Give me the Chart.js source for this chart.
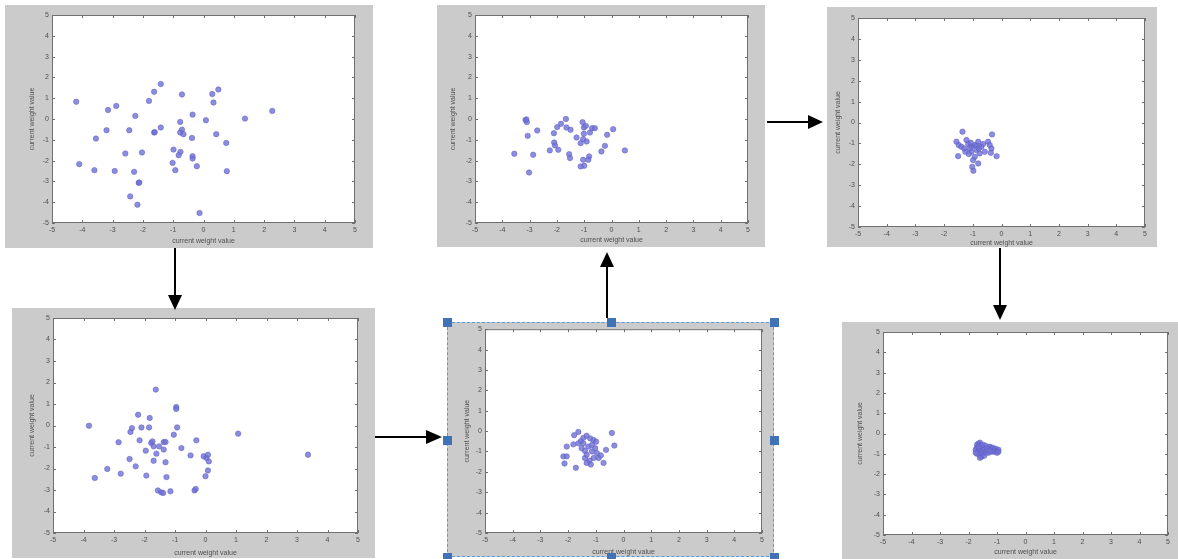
<!DOCTYPE html>
<html>
<head>
<meta charset="utf-8">
<script src="https://cdn.jsdelivr.net/npm/chart.js@4.4.1/dist/chart.umd.min.js"></script>
<style>
  body { margin: 0; background: #fff; }
  #wrap { position: relative; width: 1178px; height: 559px; overflow: hidden; background: #fff; }
  .panel { position: absolute; background: #cbcbcb; }
  .panel canvas { display: block; }
  .sel { position: absolute; border: 1px dashed #5b9bd5; box-sizing: border-box; }
  .hd { position: absolute; width: 9px; height: 9px; background: #3f73b5; }
  svg { position: absolute; left: 0; top: 0; }
</style>
</head>
<body>
<div id="wrap">
  <div class="panel" id="b1"><canvas id="c1"></canvas></div>
  <div class="panel" id="b2"><canvas id="c2"></canvas></div>
  <div class="panel" id="b3"><canvas id="c3"></canvas></div>
  <div class="panel" id="b4"><canvas id="c4"></canvas></div>
  <div class="panel" id="b5"><canvas id="c5"></canvas></div>
  <div class="panel" id="b6"><canvas id="c6"></canvas></div>
  <div class="sel" id="sel"></div>
  <svg width="1178" height="559">
    <g stroke="#000" stroke-width="2">
      <line x1="175" y1="248" x2="175" y2="297"/>
      <line x1="375" y1="437" x2="428" y2="437"/>
      <line x1="607" y1="318" x2="607" y2="266"/>
      <line x1="767" y1="122" x2="810" y2="122"/>
      <line x1="1000" y1="248" x2="1000" y2="307"/>
    </g>
    <g fill="#000">
      <polygon points="168,295 182,295 175,310"/>
      <polygon points="426,430 426,444 442,437"/>
      <polygon points="600,267 614,267 607,252"/>
      <polygon points="808,115 808,129 823,122"/>
      <polygon points="993,305 1007,305 1000,320"/>
    </g>
  </svg>
</div>
<script>
// DATA
const axisTitle = 'current weight value';
const axisMin = -5;
const axisMax = 5;

const stage1X = [-4.2, -4.1, -3.55, -3.6, -3.2, -3.15, -2.88, -2.93, -2.25, -2.45, -2.58, -2.29, -2.14, -2.12, -2.42, -2.18, -2.03, -1.8, -1.63, -1.41, -1.63, -1.61, -1.41, -0.71, -0.77, -0.71, -0.77, -0.66, -0.99, -0.76, -0.82, -1.02, -0.93, -0.36, -0.38, -0.36, -0.36, -0.22, 0.08, 0.29, 0.49, 0.33, 0.42, 0.75, 0.77, -0.13, 1.37, 2.27];
const stage1Y = [0.83, -2.17, -0.94, -2.46, -0.54, 0.43, 0.63, -2.5, 0.15, -0.54, -1.66, -2.54, -3.07, -3.05, -3.72, -4.12, -1.61, 0.87, 1.31, 1.68, -0.65, -0.63, -0.41, 1.18, -0.14, -0.51, -0.65, -0.73, -1.47, -1.58, -1.74, -2.11, -2.46, 0.21, -0.91, -1.79, -1.9, -2.27, -0.06, 1.2, 1.42, 0.79, -0.73, -1.15, -2.51, -4.52, 0.02, 0.39];

const stage2X = [-3.15, -3.1, -3.12, -3.07, -3.56, -3.02, -2.87, -2.72, -2.26, -2.1, -2.07, -2.11, -1.95, -1.99, -1.85, -1.67, -1.65, -1.5, -1.55, -1.52, -1.28, -1.13, -1.06, -1.01, -1.01, -1.04, -0.91, -1.0, -1.13, -1.04, -0.82, -0.85, -0.94, -0.79, -0.71, -0.61, -0.24, -0.37, -0.16, 0.06, 0.49];
const stage2Y = [-0.05, -0.15, -0.02, -0.81, -1.67, -2.57, -1.72, -0.55, -1.51, -1.13, -1.27, -0.68, -1.48, -0.39, -0.23, 0.0, -0.41, -0.52, -1.69, -1.88, -0.89, -1.16, -0.15, -0.41, -0.71, -0.97, -1.08, -2.25, -2.28, -1.96, -1.8, -1.96, -0.33, -0.65, -0.44, -0.44, -1.29, -1.56, -0.76, -0.49, -1.51];

const stage3X = [-1.36, -0.33, -1.57, -1.49, -1.22, -1.16, -1.05, -0.93, -0.81, -0.7, -0.87, -1.05, -1.1, -0.76, -0.93, -0.99, -0.81, -1.02, -0.98, -1.51, -1.26, -0.47, -0.41, -0.58, -0.35, -0.37, -0.17, -1.4, -0.64, -1.14, -0.86, -0.79, -1.3, -1.07];
const stage3Y = [-0.44, -0.57, -0.92, -1.08, -0.84, -1.03, -1.16, -1.08, -0.92, -1.16, -1.32, -1.4, -1.24, -1.48, -1.64, -1.8, -1.96, -2.12, -2.31, -1.61, -1.4, -0.92, -1.08, -1.4, -1.24, -1.45, -1.61, -1.16, -1.03, -1.51, -1.11, -1.24, -1.24, -0.97];

const stage4X = [-3.82, -3.63, -3.22, -2.85, -2.78, -2.49, -2.46, -2.41, -2.29, -2.21, -2.16, -2.1, -1.94, -1.96, -1.83, -1.85, -1.78, -1.74, -1.7, -1.7, -1.63, -1.61, -1.56, -1.45, -1.39, -1.52, -1.37, -1.31, -1.37, -1.31, -1.28, -1.15, -1.04, -0.96, -0.96, -0.93, -0.79, -0.49, -0.3, -0.36, -0.32, -0.06, 0.03, 0.08, 0.11, 0.0, 0.08, 1.07, 3.36];
const stage4Y = [-0.01, -2.44, -2.02, -0.78, -2.24, -1.56, -0.3, -0.12, -1.9, 0.5, -0.69, -0.09, -2.33, -1.17, 0.35, -0.09, -0.81, -0.74, -0.97, -1.64, 1.67, -1.31, -3.02, -3.11, -3.14, -0.97, -0.77, -0.77, -1.12, -1.71, -2.4, -3.06, -0.43, 0.86, 0.77, -0.09, -1.05, -1.39, -0.69, -3.02, -2.95, -1.43, -1.51, -1.36, -1.67, -2.36, -2.09, -0.38, -1.36];

const stage5X = [-0.42, -0.33, -1.63, -1.78, -2.05, -2.17, -2.05, -2.13, -1.72, -1.81, -1.54, -1.45, -1.33, -1.2, -1.08, -0.99, -1.51, -1.39, -1.27, -1.14, -1.02, -0.96, -0.9, -1.08, -1.23, -1.18, -1.33, -1.39, -0.72, -0.63, -1.45, -1.33, -1.63, -1.14, -0.82];
const stage5Y = [-0.09, -0.71, -0.04, -0.2, -0.76, -1.24, -1.24, -1.59, -1.8, -0.65, -0.49, -0.33, -0.23, -0.36, -0.44, -0.52, -0.84, -0.97, -0.76, -0.68, -0.84, -1.08, -1.32, -1.32, -1.45, -1.64, -1.56, -1.32, -1.56, -0.92, -0.6, -1.16, -0.6, -1.0, -1.19];

const stage6X = [-1.7, -1.65, -1.6, -1.55, -1.7, -1.75, -1.65, -1.6, -1.5, -1.45, -1.55, -1.7, -1.6, -1.5, -1.4, -1.55, -1.45, -1.35, -1.3, -1.25, -1.2, -1.15, -1.1, -1.05, -1.0, -0.95, -1.1, -1.2, -1.3, -1.4, -1.5, -1.65, -1.75, -1.6, -1.35, -1.25, -1.0, -0.95];
const stage6Y = [-0.55, -0.5, -0.45, -0.6, -0.7, -0.8, -0.85, -0.75, -0.7, -0.8, -0.9, -1.0, -1.05, -1.0, -0.95, -1.15, -1.1, -0.85, -0.7, -0.65, -0.75, -0.7, -0.8, -0.75, -0.85, -0.8, -0.9, -0.9, -0.95, -0.6, -0.55, -0.65, -0.95, -1.2, -0.75, -0.85, -0.95, -0.9];

// LAYOUT: gray box, y title offset, y scale width, top pad, right pad, x scale height, bottom pad
const panels = [
  { id: 1, box: [5, 5, 368, 243], left: 23, yw: 24, top: 10, right: 18, xh: 22, bottom: 3, xs: stage1X, ys: stage1Y },
  { id: 2, box: [437, 5, 328, 242], left: 12, yw: 26, top: 10, right: 17, xh: 21, bottom: 3, xs: stage2X, ys: stage2Y },
  { id: 3, box: [827, 7, 330, 240], left: 7, yw: 24, top: 11, right: 12, xh: 20, bottom: 0, xs: stage3X, ys: stage3Y },
  { id: 4, box: [12, 308, 363, 250], left: 16, yw: 25, top: 10, right: 17, xh: 24, bottom: 1, xs: stage4X, ys: stage4Y },
  { id: 5, box: [447, 322, 327, 235], left: 16, yw: 22, top: 3, right: 12, xh: 23, bottom: 1, xs: stage5X, ys: stage5Y },
  { id: 6, box: [842, 322, 336, 237], left: 14, yw: 27, top: 10, right: 10, xh: 21, bottom: 3, xs: stage6X, ys: stage6Y }
];

// selection frame around panel 5
const sel = document.getElementById('sel');
const sb = [447, 322, 327, 235];
sel.style.left = sb[0] + 'px';
sel.style.top = sb[1] + 'px';
sel.style.width = sb[2] + 'px';
sel.style.height = sb[3] + 'px';
[[0, 0], [0.5, 0], [1, 0], [0, 0.5], [1, 0.5], [0, 1], [0.5, 1], [1, 1]].forEach(([fx, fy]) => {
  const h = document.createElement('div');
  h.className = 'hd';
  h.style.left = Math.round(sb[0] + fx * sb[2] - 4) + 'px';
  h.style.top = Math.round(sb[1] + fy * sb[3] - 4) + 'px';
  document.getElementById('wrap').appendChild(h);
});

// white plot area, box and inward ticks like matlab
const matlabBox = {
  id: 'matlabBox',
  beforeDatasetsDraw(chart) {
    const { ctx, chartArea: a } = chart;
    ctx.save();
    ctx.fillStyle = '#fff';
    ctx.fillRect(a.left, a.top, a.right - a.left, a.bottom - a.top);
    ctx.restore();
  },
  afterDatasetsDraw(chart) {
    const { ctx, chartArea: a, scales: { x, y } } = chart;
    ctx.save();
    ctx.strokeStyle = '#707070';
    ctx.lineWidth = 1;
    ctx.strokeRect(a.left + 0.5, a.top + 0.5, a.right - a.left - 1, a.bottom - a.top - 1);
    ctx.beginPath();
    x.ticks.forEach(t => {
      const px = Math.round(x.getPixelForValue(t.value)) + 0.5;
      ctx.moveTo(px, a.bottom); ctx.lineTo(px, a.bottom - 3);
      ctx.moveTo(px, a.top); ctx.lineTo(px, a.top + 3);
    });
    y.ticks.forEach(t => {
      const py = Math.round(y.getPixelForValue(t.value)) + 0.5;
      ctx.moveTo(a.left, py); ctx.lineTo(a.left + 3, py);
      ctx.moveTo(a.right, py); ctx.lineTo(a.right - 3, py);
    });
    ctx.stroke();
    ctx.restore();
  }
};

Chart.defaults.font.family = 'Arial, "Liberation Sans", sans-serif';

function makePanel(p) {
  const div = document.getElementById('b' + p.id);
  const [bx, by, bw, bh] = p.box;
  div.style.left = bx + 'px';
  div.style.top = by + 'px';
  div.style.width = bw + 'px';
  div.style.height = bh + 'px';
  const canvas = document.getElementById('c' + p.id);
  canvas.width = bw;
  canvas.height = bh;
  const pts = p.xs.map((v, i) => ({ x: v, y: p.ys[i] }));
  new Chart(canvas, {
    type: 'scatter',
    data: {
      datasets: [{
        data: pts,
        pointRadius: 2.7,
        pointHoverRadius: 2.7,
        backgroundColor: 'rgba(112, 112, 212, 0.8)',
        borderColor: 'rgba(95, 95, 200, 0.55)',
        borderWidth: 1
      }]
    },
    options: {
      responsive: false,
      animation: false,
      layout: { padding: { left: p.left, top: p.top, right: p.right, bottom: p.bottom } },
      plugins: { legend: { display: false }, tooltip: { enabled: false } },
      scales: {
        x: {
          type: 'linear', min: axisMin, max: axisMax,
          grid: { display: false, drawTicks: false },
          border: { display: false },
          ticks: { stepSize: 1, color: '#505050', font: { size: 7 }, padding: 3, maxRotation: 0, autoSkip: false },
          title: { display: true, text: axisTitle, color: '#505050', font: { size: 7 }, padding: 0 },
          afterFit: s => { s.height = p.xh; }
        },
        y: {
          type: 'linear', min: axisMin, max: axisMax,
          grid: { display: false, drawTicks: false },
          border: { display: false },
          ticks: { stepSize: 1, color: '#505050', font: { size: 7 }, padding: 3, autoSkip: false },
          title: { display: true, text: axisTitle, color: '#505050', font: { size: 7 }, padding: 0 },
          afterFit: s => { s.width = p.yw; }
        }
      }
    },
    plugins: [matlabBox]
  });
}

panels.forEach(makePanel);
</script>
</body>
</html>
